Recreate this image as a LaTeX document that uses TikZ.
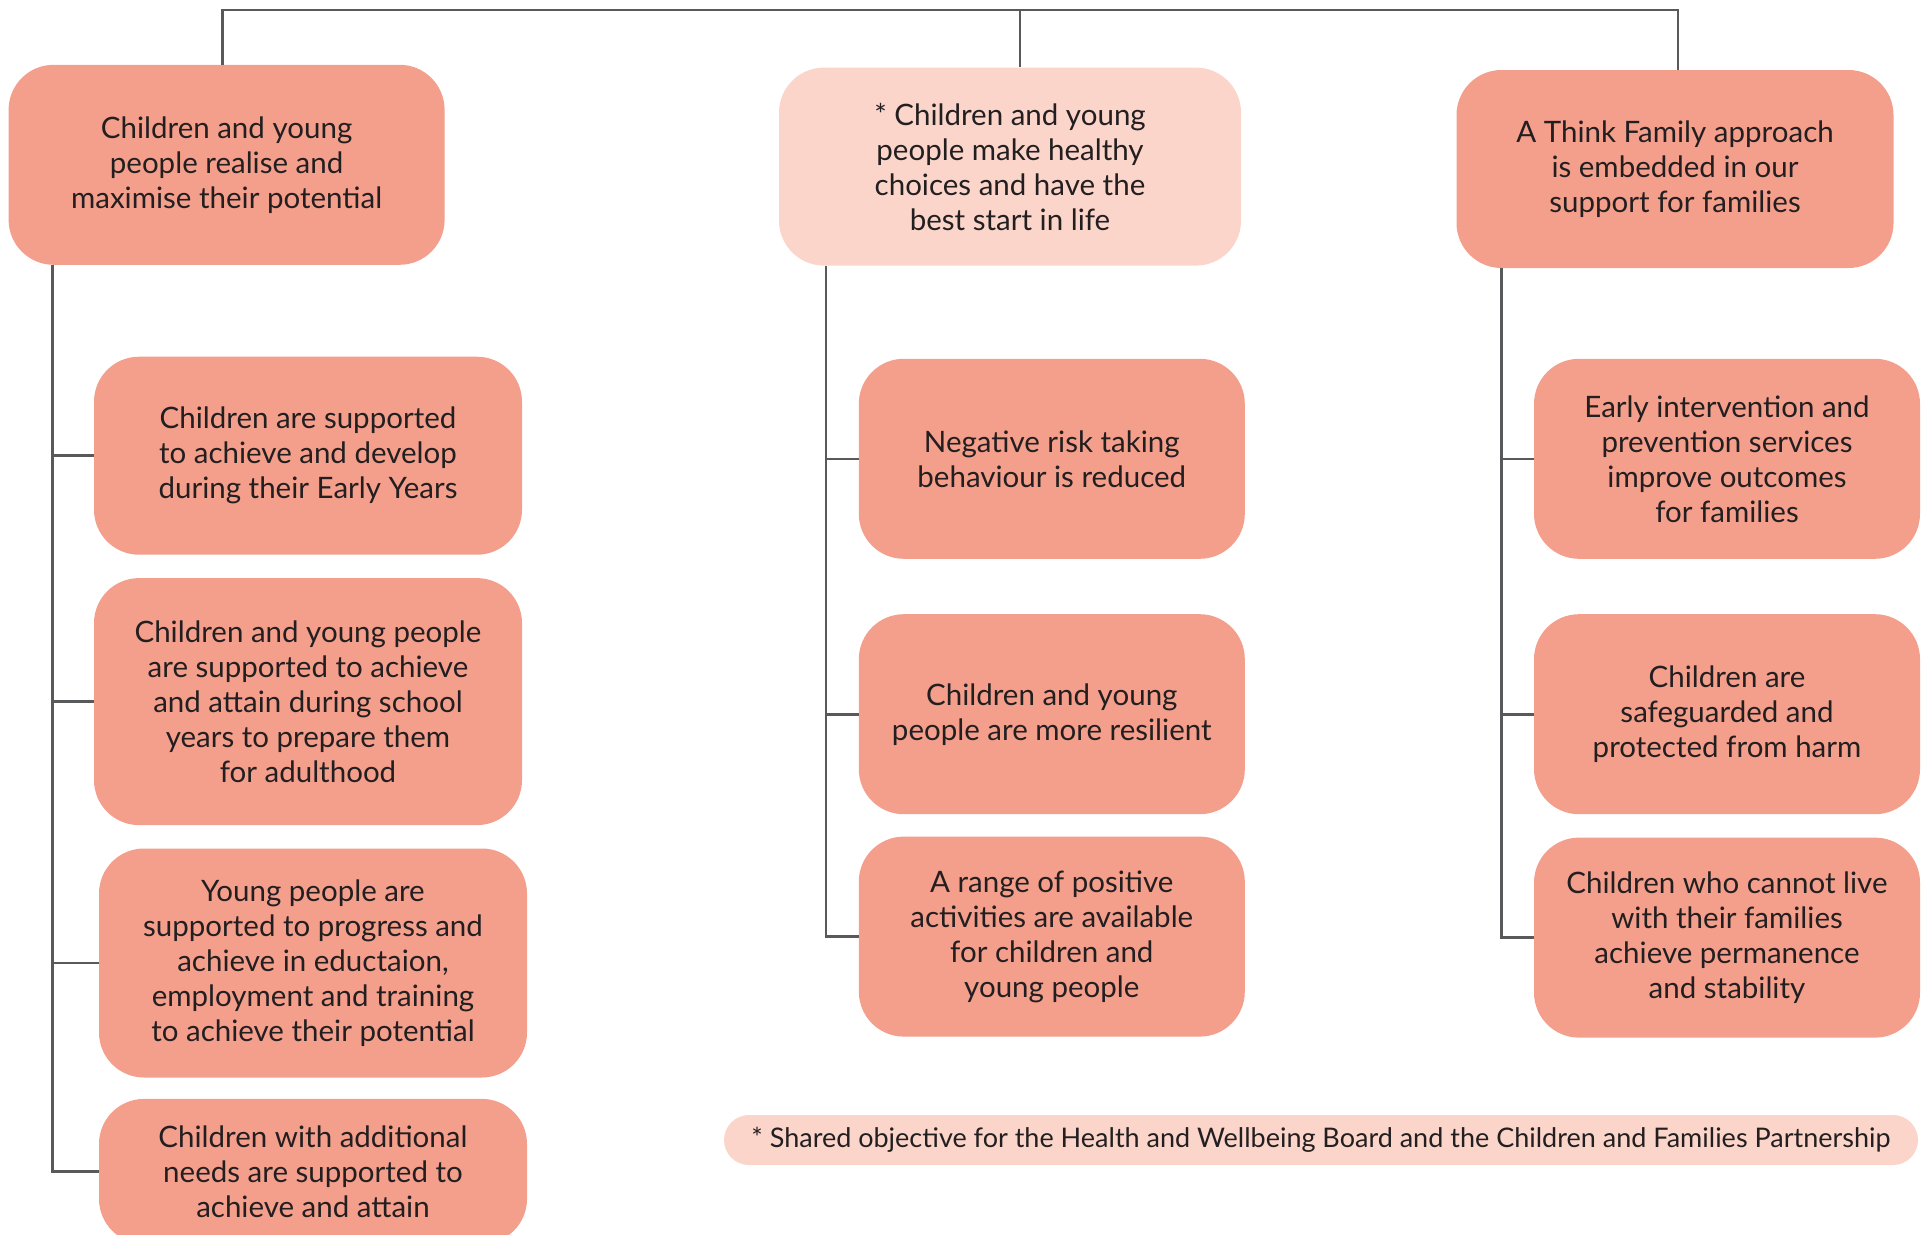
\documentclass[tikz,border=0pt]{standalone}
\usepackage{fontspec}
\setmainfont{Lato}
\usetikzlibrary{positioning}
\definecolor{OutSalmon}{HTML}{F49E8C}
\definecolor{OutBlush}{HTML}{FBD5CA}
\definecolor{OutInk}{HTML}{231F20}
\definecolor{OutLine}{HTML}{58595B}

\begin{document}
\begin{tikzpicture}[
  x=1pt,y=-1pt,
  node distance=23pt,
  goal/.style={rounded corners=45pt,fill=OutSalmon,text=OutInk,align=center,inner sep=4pt,font=\fontsize{29.5}{35}\selectfont},
  shared/.style={goal,fill=OutBlush},
  note/.style={rounded corners=25pt,fill=OutBlush,text=OutInk,align=center,inner sep=4pt,font=\fontsize{27}{30}\selectfont},
  link/.style={draw=OutLine,line width=2.6pt},
]
\useasboundingbox (0,0) rectangle (1921,1234);
\begin{scope}
\clip (0,0) rectangle (1921,1234);
% top row
\node[goal,minimum width=436pt,minimum height=200pt] (realise) at (226.6,164.8) {Children and young\\people realise and\\maximise their potential};
\node[shared,minimum width=462pt,minimum height=198pt] (healthy) at (1010,166.6) {* Children and young\\people make healthy\\choices and have the\\best start in life};
\node[goal,minimum width=437pt,minimum height=198pt] (family) at (1675,169) {A Think Family approach\\is embedded in our\\support for families};

% left column
\node[goal,minimum width=428pt,minimum height=198pt] (early) at (308,455.7) {Children are supported\\to achieve and develop\\during their Early Years};
\node[goal,minimum width=428pt,minimum height=247pt,below=of early] (school) {Children and young people\\are supported to achieve\\and attain during school\\years to prepare them\\for adulthood};
\node[goal,minimum width=428pt,minimum height=229pt,below=of school,xshift=5pt] (progress) {Young people are\\supported to progress and\\achieve in eductaion,\\employment and training\\to achieve their potential};
\node[goal,minimum width=428pt,minimum height=145pt,below=21pt of progress] (needs) {Children with additional\\needs are supported to\\achieve and attain};

% middle column
\node[goal,minimum width=386pt,minimum height=200pt] (risk) at (1051.8,458.8) {Negative risk taking\\behaviour is reduced};
\node[goal,minimum width=386pt,minimum height=200pt,below=55pt of risk] (resilient) {Children and young\\people are more resilient};
\node[goal,minimum width=386pt,minimum height=200pt,below=22pt of resilient] (activities) {A range of positive\\activities are available\\for children and\\young people};

% right column
\node[goal,minimum width=386pt,minimum height=200pt] (prevent) at (1727,458.8) {Early intervention and\\prevention services\\improve outcomes\\for families};
\node[goal,minimum width=386pt,minimum height=200pt,below=55pt of prevent] (harm) {Children are\\safeguarded and\\protected from harm};
\node[goal,minimum width=386pt,minimum height=200pt,below=23pt of harm] (stable) {Children who cannot live\\with their families\\achieve permanence\\and stability};

\node[note,minimum width=1194pt,minimum height=50pt] (footnote) at (1321,1140) {* Shared objective for the Health and Wellbeing Board and the Children and Families Partnership};

% connectors
\coordinate (bar) at (0,10);
\draw[link] ([xshift=-4pt]realise.north) -- ([xshift=-4pt]realise.north |- bar) -| ([xshift=3pt]family.north);
\draw[link] ([xshift=10pt]healthy.north) -- ([xshift=10pt]healthy.north |- bar);

\coordinate (lspine) at ([xshift=44pt]realise.south west);
\coordinate (mspine) at ([xshift=47pt]healthy.south west);
\coordinate (rspine) at ([xshift=45pt]family.south west);

\draw[link] (lspine) |- (needs.west);
\foreach \n in {early,school,progress}
  \draw[link] (lspine |- \n.west) -- (\n.west);
\draw[link] (mspine) |- (activities.west);
\foreach \n in {risk,resilient}
  \draw[link] (mspine |- \n.west) -- (\n.west);
\draw[link] (rspine) |- (stable.west);
\foreach \n in {prevent,harm}
  \draw[link] (rspine |- \n.west) -- (\n.west);
\end{scope}
\end{tikzpicture}
\end{document}
